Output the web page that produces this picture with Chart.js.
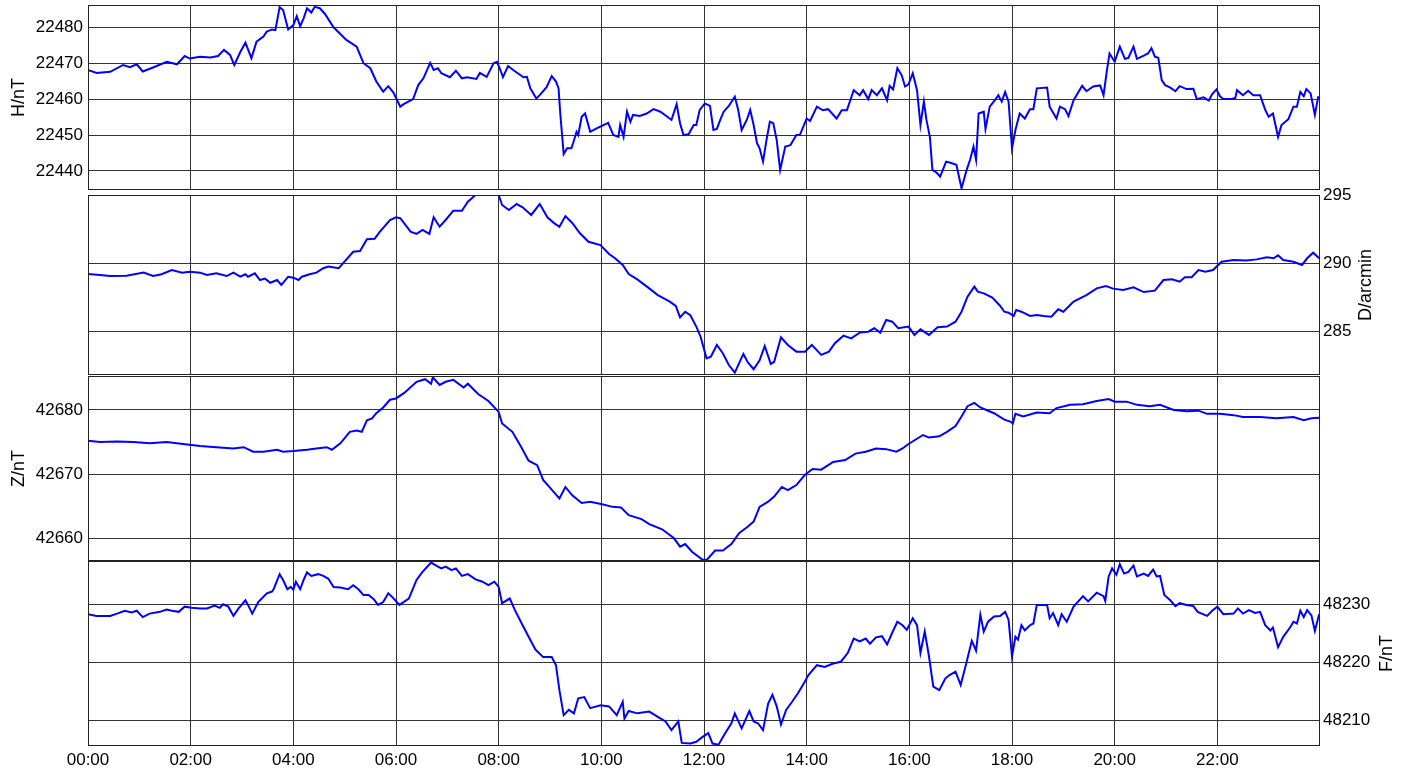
<!DOCTYPE html>
<html>
<head>
<meta charset="utf-8">
<script src="https://cdn.jsdelivr.net/npm/chart.js@4.4.1/dist/chart.umd.min.js"></script>
<style>
  html, body { margin: 0; padding: 0; background: #fff; }
  #wrap { position: relative; width: 1412px; height: 775px; }
  #wrap canvas { position: absolute; left: 0; top: 0; }
</style>
</head>
<body>
<div id="wrap">
  <canvas id="c-h" width="1412" height="775"></canvas>
  <canvas id="c-d" width="1412" height="775"></canvas>
  <canvas id="c-z" width="1412" height="775"></canvas>
  <canvas id="c-f" width="1412" height="775"></canvas>
</div>
<script>
// time of day in minutes
const timeTicks = [0, 120, 240, 360, 480, 600, 720, 840, 960, 1080, 1200, 1320];
const timeLabels = ['00:00', '02:00', '04:00', '06:00', '08:00', '10:00', '12:00', '14:00', '16:00', '18:00', '20:00', '22:00'];

const hTicks = [22440, 22450, 22460, 22470, 22480];
const dTicks = [285, 290, 295];
const zTicks = [42660, 42670, 42680];
const fTicks = [48210, 48220, 48230];

// H (nT)
const hMin = [0,10,26,41,49,57,64,76,92,104,113,119,131,143,152,159,166,171,178,184,
  191,197,205,209,215,219,224,228,234,240,244,248,252,256,261,265,271,277,287,302,
  314,322,330,337,345,351,357,365,369,380,386,392,400,404,409,413,423,430,437,443,
  454,458,466,474,478,482,485,491,497,509,513,517,524,528,536,542,547,550,552,556,
  560,565,567,571,573,577,581,587,595,600,608,610,614,620,622,626,630,634,637,645,
  653,661,669,676,682,688,692,696,702,708,711,715,721,727,731,735,739,743,749,756,
  760,764,770,774,778,782,785,789,793,797,801,805,809,815,821,828,832,840,844,852,
  859,865,875,881,887,895,902,906,912,916,922,928,934,937,941,946,951,955,959,964,
  969,973,977,980,984,987,992,996,1003,1008,1015,1021,1027,1031,1035,1038,1041,1047,1049,1054,
  1060,1064,1068,1072,1076,1080,1084,1089,1095,1101,1105,1109,1121,1124,1132,1136,1142,1146,1152,1162,
  1167,1175,1183,1187,1191,1194,1200,1206,1212,1216,1222,1226,1234,1239,1243,1247,1251,1255,1259,1265,
  1271,1276,1284,1292,1296,1304,1310,1314,1319,1323,1327,1335,1341,1343,1350,1356,1362,1370,1376,1380,
  1385,1391,1395,1403,1409,1413,1417,1421,1424,1429,1434,1438];
const hVal = [22468.1,22467.3,22467.6,22469.5,22468.9,22469.7,22467.7,22468.8,22470.4,22469.7,
  22472.0,22471.3,22471.8,22471.6,22472.0,22473.7,22472.3,22469.5,22473.1,22475.7,
  22471.4,22476.0,22477.4,22478.8,22479.4,22479.2,22485.6,22484.8,22479.4,22480.6,
  22483.1,22480.3,22482.5,22485.3,22484.1,22485.7,22485.3,22483.7,22480.0,22476.5,
  22474.6,22470.0,22468.6,22464.9,22462.1,22463.6,22461.8,22457.9,22458.6,22460.0,
  22463.9,22465.8,22470.1,22468.1,22468.6,22467.2,22466.1,22467.9,22465.8,22466.1,
  22465.6,22467.3,22466.2,22470.0,22470.4,22468.1,22466.1,22469.2,22468.1,22466.1,
  22466.2,22463.0,22460.2,22461.1,22463.3,22466.4,22464.9,22463.0,22456.0,22444.7,
  22446.3,22446.3,22447.7,22450.9,22450.0,22455.1,22456.0,22450.9,22451.9,22452.5,
  22453.4,22452.3,22450.0,22449.5,22452.8,22449.5,22456.5,22453.7,22455.6,22455.3,
  22456.0,22457.2,22456.5,22455.3,22454.2,22458.6,22453.3,22450.0,22450.2,22452.8,
  22452.8,22457.0,22458.8,22458.1,22451.4,22451.7,22454.2,22456.5,22458.1,22460.7,
  22457.0,22451.4,22454.2,22457.0,22452.8,22447.7,22446.3,22442.6,22448.6,22453.7,
  22453.3,22448.6,22440.3,22446.8,22447.2,22450.0,22450.0,22454.6,22453.9,22457.9,
  22456.9,22457.2,22454.6,22456.9,22456.9,22462.5,22461.1,22462.5,22460.0,22462.5,
  22461.1,22463.0,22459.7,22463.7,22462.7,22468.6,22466.7,22463.5,22464.1,22467.2,
  22462.5,22452.8,22459.3,22454.2,22449.5,22440.3,22439.5,22438.4,22442.6,22442.3,
  22441.7,22435.2,22440.3,22443.1,22446.8,22443.1,22456.0,22456.5,22451.7,22457.9,
  22459.7,22461.1,22459.3,22462.0,22459.3,22446.3,22451.4,22456.0,22454.6,22457.2,
  22457.2,22463.0,22463.2,22457.9,22454.6,22457.9,22457.2,22455.3,22459.7,22463.7,
  22462.2,22463.5,22463.8,22461.1,22468.1,22472.7,22470.4,22474.6,22471.2,22471.5,
  22474.6,22471.2,22472.1,22472.7,22474.2,22471.8,22471.5,22465.3,22463.9,22463.2,
  22462.2,22463.6,22462.8,22462.9,22460.0,22460.5,22459.6,22461.4,22462.7,22460.8,
  22460.0,22460.0,22460.3,22462.5,22461.1,22462.3,22461.1,22461.1,22457.0,22455.1,
  22456.0,22449.5,22452.8,22454.4,22457.9,22457.9,22462.0,22460.8,22462.8,22461.6,
  22455.6,22460.8];

// D (arcmin)
const dMin = [0,14,26,45,65,76,86,98,110,119,131,139,150,162,170,178,184,187,195,201,
  207,213,221,226,234,240,246,250,259,267,275,281,293,298,310,318,326,335,341,353,
  360,365,377,384,391,399,404,411,418,427,437,444,453,463,480,484,492,501,508,518,
  528,537,544,551,558,566,575,585,599,609,616,625,632,642,656,666,680,687,692,698,
  704,711,716,723,728,735,742,749,756,766,771,778,785,791,798,802,810,818,828,838,
  846,857,866,873,883,892,902,912,919,926,933,940,947,959,966,973,983,993,1004,1014,
  1021,1028,1036,1040,1047,1057,1066,1071,1076,1082,1085,1091,1101,1109,1117,1126,1134,1140,1152,1167,
  1179,1190,1198,1210,1222,1234,1247,1257,1267,1276,1282,1290,1298,1306,1315,1325,1339,1354,1366,1378,
  1386,1391,1397,1409,1419,1425,1432,1439];
const dVal = [289.22,289.15,289.07,289.1,289.32,289.07,289.2,289.51,289.32,289.39,
  289.32,289.15,289.27,289.07,289.32,289.02,289.2,289.02,289.27,288.78,
  288.88,288.58,288.78,288.42,289.02,288.95,288.78,289.02,289.2,289.32,
  289.64,289.76,289.64,290.0,290.85,290.9,291.76,291.8,292.3,293.17,
  293.37,293.3,292.32,292.15,292.44,292.15,293.37,292.68,293.17,293.85,
  293.85,294.51,295.0,295.0,295.0,294.27,293.9,294.34,294.1,293.54,
  294.34,293.37,292.98,292.68,293.46,292.95,292.2,291.58,291.34,290.68,
  290.37,289.88,289.22,288.83,288.17,287.68,287.2,286.88,286.05,286.46,
  286.2,285.37,284.63,283.05,283.17,284.03,283.42,282.56,282.0,283.37,
  282.78,282.25,282.9,283.95,282.64,282.8,284.59,284.03,283.54,283.54,
  284.03,283.3,283.54,284.15,284.71,284.51,284.93,285.0,285.25,284.93,
  285.86,285.73,285.25,285.37,284.76,285.17,284.76,285.32,285.37,285.73,
  286.46,287.56,288.3,287.93,287.8,287.5,286.9,286.46,286.39,286.15,
  286.59,286.46,286.15,286.22,286.15,286.1,286.64,286.46,287.2,287.68,
  288.17,288.34,288.15,288.05,288.25,287.9,288.0,288.78,288.83,288.66,
  288.98,288.98,289.51,289.39,289.51,290.12,290.24,290.2,290.29,290.44,
  290.37,290.59,290.24,290.12,289.88,290.37,290.78,290.37];

// Z (nT)
const zMin = [0,14,34,53,72,92,111,131,150,170,182,193,205,221,228,240,256,267,279,285,
  295,306,314,320,326,332,337,345,353,360,370,384,394,401,403,411,418,427,439,444,
  456,468,480,484,496,506,515,525,532,542,551,558,566,577,587,601,613,623,632,647,
  656,671,685,692,698,706,718,723,733,742,752,761,771,778,785,795,802,811,818,828,
  838,847,857,871,885,897,909,921,933,945,952,959,976,983,995,1004,1014,1021,1028,1036,
  1043,1050,1059,1071,1078,1081,1084,1093,1109,1124,1132,1148,1163,1179,1193,1200,1214,1226,1241,1253,
  1269,1284,1298,1308,1323,1339,1350,1370,1389,1409,1421,1430,1439];
const zVal = [42675.2,42675.0,42675.1,42675.0,42674.8,42675.0,42674.7,42674.4,42674.2,42674.0,
  42674.2,42673.5,42673.5,42673.8,42673.5,42673.6,42673.8,42674.0,42674.2,42673.8,
  42674.8,42676.6,42676.8,42676.6,42678.4,42678.7,42679.5,42680.4,42681.6,42681.8,
  42682.7,42684.4,42684.8,42684.1,42685.1,42683.9,42684.4,42684.7,42683.5,42684.1,
  42682.5,42681.4,42679.7,42677.9,42676.6,42674.3,42672.1,42671.4,42669.1,42667.6,
  42666.2,42668.0,42666.7,42665.5,42665.7,42665.3,42664.9,42664.8,42663.6,42663.0,
  42662.2,42661.4,42660.0,42658.7,42659.1,42657.9,42656.7,42656.6,42658.1,42658.1,
  42659.1,42660.8,42661.8,42662.6,42664.9,42665.7,42666.5,42668.0,42667.5,42668.3,
  42669.9,42670.8,42670.7,42671.9,42672.2,42673.2,42673.5,42674.0,42673.9,42673.5,
  42674.0,42674.7,42676.1,42675.7,42675.9,42676.6,42677.5,42679.0,42680.6,42681.1,
  42680.4,42680.0,42679.5,42678.5,42678.2,42677.9,42679.4,42679.0,42679.6,42679.5,
  42680.3,42680.8,42680.9,42681.4,42681.7,42681.3,42681.3,42680.8,42680.6,42680.8,
  42680.0,42679.8,42679.9,42679.4,42679.4,42679.2,42678.9,42678.9,42678.7,42678.9,
  42678.4,42678.7,42678.8];

// F (nT)
const fMin = [0,10,26,34,43,51,57,64,72,84,92,98,106,113,121,131,139,148,154,158,
  164,170,176,184,187,192,199,209,215,217,224,228,233,237,240,243,248,252,256,261,
  269,275,281,287,295,304,310,316,322,328,334,339,345,351,356,364,375,384,391,401,
  408,413,418,425,430,437,444,453,461,468,475,480,484,493,499,508,515,523,532,542,
  547,551,556,562,568,573,580,587,599,609,618,625,627,632,642,656,666,675,682,690,
  694,704,711,718,725,730,737,744,752,756,764,773,778,783,789,795,800,805,810,816,
  823,830,838,842,852,861,871,880,888,895,902,909,914,921,928,934,940,946,952,957,
  964,969,973,978,983,988,995,1002,1007,1014,1020,1026,1033,1038,1043,1047,1052,1059,1066,1072,
  1076,1080,1084,1087,1091,1095,1101,1105,1109,1121,1124,1128,1134,1138,1144,1152,1163,1169,1179,1187,
  1189,1193,1197,1202,1206,1211,1216,1222,1226,1234,1239,1245,1249,1253,1258,1265,1271,1276,1284,1292,
  1297,1308,1314,1320,1327,1339,1344,1350,1357,1364,1370,1376,1382,1385,1391,1397,1405,1409,1413,1417,
  1421,1425,1430,1434,1439];
const fVal = [48228.3,48228.0,48228.0,48228.4,48228.9,48228.6,48228.9,48227.8,48228.4,48228.7,
  48229.1,48228.9,48228.7,48229.6,48229.4,48229.3,48229.3,48229.8,48229.4,48230.0,
  48229.6,48228.0,48229.3,48230.7,48229.9,48228.4,48230.4,48231.9,48232.2,48232.6,
  48235.2,48234.2,48232.6,48233.0,48232.5,48233.9,48232.6,48234.2,48235.5,48234.9,
  48235.2,48234.9,48234.4,48233.0,48232.9,48232.6,48233.3,48232.6,48231.6,48231.6,
  48230.9,48229.9,48230.4,48231.9,48231.2,48229.9,48231.0,48234.2,48235.6,48237.2,
  48236.6,48236.2,48236.5,48235.9,48236.2,48234.9,48235.2,48234.3,48233.9,48233.3,
  48233.9,48233.0,48230.2,48231.0,48229.0,48226.4,48224.4,48222.2,48220.9,48220.9,
  48219.5,48215.2,48210.9,48211.8,48211.2,48213.8,48214.0,48212.1,48212.6,48212.4,
  48210.9,48213.2,48210.3,48211.6,48211.2,48211.5,48210.6,48209.8,48208.3,48209.8,
  48206.1,48206.0,48206.3,48207.1,48207.8,48206.0,48205.8,48207.6,48209.5,48211.2,
  48208.6,48211.6,48209.8,48209.5,48208.3,48212.9,48214.4,48212.4,48209.3,48211.8,
  48213.2,48214.7,48216.7,48217.8,48219.5,48219.2,48219.8,48220.1,48221.6,48224.1,
  48223.6,48224.1,48223.2,48224.3,48224.5,48223.1,48225.1,48227.0,48226.4,48225.6,
  48227.6,48226.4,48221.6,48225.3,48221.0,48215.8,48215.2,48217.2,48217.8,48218.4,
  48216.1,48219.5,48223.7,48222.0,48228.2,48225.3,48227.0,48227.9,48228.0,48228.7,
  48227.3,48221.0,48224.4,48223.9,48226.4,48225.5,48226.4,48226.7,48229.9,48229.9,
  48227.6,48228.5,48226.4,48228.3,48227.0,48229.6,48231.4,48230.5,48232.0,48231.4,
  48230.6,48234.8,48236.2,48235.1,48236.9,48235.3,48235.6,48236.7,48234.8,48235.3,
  48234.9,48236.0,48234.8,48234.9,48231.6,48230.7,48229.7,48230.2,48229.9,48229.7,
  48228.7,48228.0,48228.9,48229.6,48228.3,48228.4,48229.3,48228.4,48229.0,48228.5,
  48228.7,48226.4,48225.5,48226.0,48222.6,48224.4,48226.0,48227.0,48226.7,48228.9,
  48227.8,48229.0,48228.1,48225.4,48228.3];

const FONT = 'Arial, "Liberation Sans", sans-serif';
const W = 1412, H = 775;

const panels = [
  { id: 'c-h', title: 'H/nT',     side: 'left',  top: 5,   bottom: 190, min: 22434.7,  max: 22486.2,  ticks: hTicks, t: hMin, v: hVal, titleX: 19 },
  { id: 'c-d', title: 'D/arcmin', side: 'right', top: 195, bottom: 375, min: 281.83,   max: 295.0,    ticks: dTicks, t: dMin, v: dVal, titleX: 1366 },
  { id: 'c-z', title: 'Z/nT',     side: 'left',  top: 376, bottom: 561, min: 42656.46, max: 42685.3,  ticks: zTicks, t: zMin, v: zVal, titleX: 19 },
  { id: 'c-f', title: 'F/nT',     side: 'right', top: 561, bottom: 746, min: 48205.57, max: 48237.47, ticks: fTicks, t: fMin, v: fVal, titleX: 1387, showTime: true }
];

// panel frame + rotated axis title
const framePlugin = {
  id: 'frame',
  afterDraw(chart, args, opts) {
    const { ctx, chartArea: a } = chart;
    ctx.save();
    ctx.strokeStyle = '#222';
    ctx.lineWidth = 1;
    ctx.strokeRect(a.left + 0.5, a.top + 0.5, a.right - a.left - 1, a.bottom - a.top - 1);
    ctx.font = '18px ' + FONT;
    ctx.fillStyle = '#000';
    ctx.textAlign = 'center';
    ctx.textBaseline = 'middle';
    ctx.translate(opts.x, (a.top + a.bottom) / 2);
    ctx.rotate(-Math.PI / 2);
    ctx.fillText(opts.text, 0, 0);
    ctx.restore();
  }
};

panels.forEach(p => {
  const xHeight = p.showTime ? 29 : 0;
  const yWidth = p.side === 'left' ? 88 : 92;
  new Chart(document.getElementById(p.id), {
    type: 'line',
    data: {
      datasets: [{
        data: p.t.map((m, i) => ({ x: m, y: p.v[i] })),
        borderColor: '#0000ff',
        borderWidth: 2,
        pointRadius: 0,
        tension: 0,
        fill: false
      }]
    },
    options: {
      responsive: false,
      animation: false,
      events: [],
      layout: {
        padding: {
          top: p.top,
          bottom: H - p.bottom - xHeight,
          left: p.side === 'left' ? 0 : 88,
          right: p.side === 'left' ? 92 : 0
        }
      },
      plugins: {
        legend: { display: false },
        tooltip: { enabled: false },
        frame: { text: p.title, x: p.titleX }
      },
      scales: {
        x: {
          type: 'linear',
          min: 0,
          max: 1440,
          afterBuildTicks: s => { s.ticks = timeTicks.map(v => ({ value: v })); },
          afterFit: s => { s.height = xHeight; s.paddingLeft = 0; s.paddingRight = 0; },
          grid: { color: '#333', lineWidth: 1, drawTicks: false },
          border: { display: false },
          ticks: {
            display: !!p.showTime,
            padding: 4,
            maxRotation: 0,
            autoSkip: false,
            color: '#000',
            font: { family: FONT, size: 17 },
            callback: (v, i) => timeLabels[i]
          }
        },
        y: {
          position: p.side,
          min: p.min,
          max: p.max,
          afterBuildTicks: s => { s.ticks = p.ticks.map(v => ({ value: v })); },
          afterFit: s => { s.width = yWidth; s.paddingTop = 0; s.paddingBottom = 0; },
          grid: { color: '#333', lineWidth: 1, drawTicks: false },
          border: { display: false },
          ticks: {
            padding: p.side === 'left' ? 5 : 3,
            color: '#000',
            font: { family: FONT, size: 17 },
            callback: v => String(v)
          }
        }
      }
    },
    plugins: [framePlugin]
  });
});
</script>
</body>
</html>
